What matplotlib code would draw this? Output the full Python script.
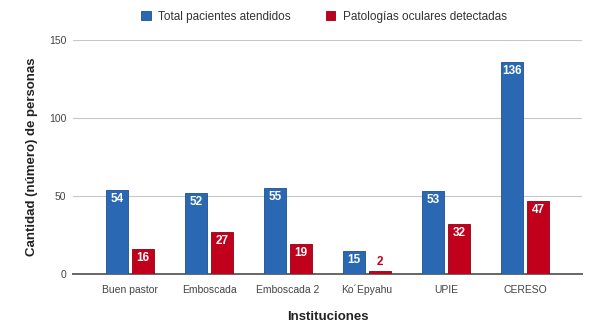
import numpy as np
import matplotlib
matplotlib.use("Agg")
import matplotlib.pyplot as plt

plt.rcParams['font.family'] = ['Liberation Sans', 'DejaVu Sans']

categories = ["Buen pastor", "Emboscada", "Emboscada 2", "Ko´Epyahu", "UPIE", "CERESO"]
total_atendidos = [54, 52, 55, 15, 53, 136]
patologias = [16, 27, 19, 2, 32, 47]

BLUE = "#2a68b3"
RED = "#c1001b"

fig = plt.figure(figsize=(6.0, 3.34), dpi=100)
ax = fig.add_axes([0.122, 0.18, 0.848, 0.70])

x = np.arange(len(categories))
w = 0.28
off = 0.165
b1 = ax.bar(x - off, total_atendidos, w, color=BLUE, edgecolor="#1d4f8f", linewidth=0.6,
            label="Total pacientes atendidos", zorder=3)
b2 = ax.bar(x + off, patologias, w, color=RED, edgecolor="#8f0014", linewidth=0.6,
            label="Patologías oculares detectadas", zorder=3)

for bars in (b1, b2):
    for r in bars:
        h = r.get_height()
        cx = r.get_x() + r.get_width() / 2
        if h >= 8:
            ax.text(cx, h - 2, f"{int(h)}", ha="center", va="top", color="white",
                    fontsize=8.5, fontweight="bold", zorder=4)
        else:
            ax.text(cx, h + 2, f"{int(h)}", ha="center", va="bottom",
                    color=r.get_facecolor(), fontsize=8.5, fontweight="bold", zorder=4)

ax.set_xlim(-0.72, len(categories) - 1 + 0.72)
ax.set_ylim(0, 150)
ax.set_yticks([0, 50, 100, 150])
ax.set_xticks(x)
ax.set_xticklabels(categories)
ax.yaxis.grid(True, color="#c8c8c8", linewidth=0.8, zorder=0)
ax.set_axisbelow(True)
for s in ("top", "right", "left"):
    ax.spines[s].set_visible(False)
ax.spines["bottom"].set_color("#666666")
ax.spines["bottom"].set_linewidth(1.4)
ax.tick_params(axis="x", length=0, labelsize=7.5, colors="#444444", pad=8)
ax.tick_params(axis="y", length=0, labelsize=7.5, colors="#444444", pad=5)

ax.set_ylabel("Cantidad (número) de personas", fontsize=9.5, fontweight="bold",
              color="#222222", labelpad=8)
ax.set_xlabel("Instituciones", fontsize=9.5, fontweight="bold", color="#222222", labelpad=11)

fig.legend(handles=[b1, b2], loc="upper center", bbox_to_anchor=(0.54, 1.0), ncol=2,
           frameon=False, fontsize=8.5, handlelength=0.8, handleheight=0.8,
           columnspacing=3.0, handletextpad=0.6, labelcolor="#333333")

fig.savefig("out.png", dpi=100)
